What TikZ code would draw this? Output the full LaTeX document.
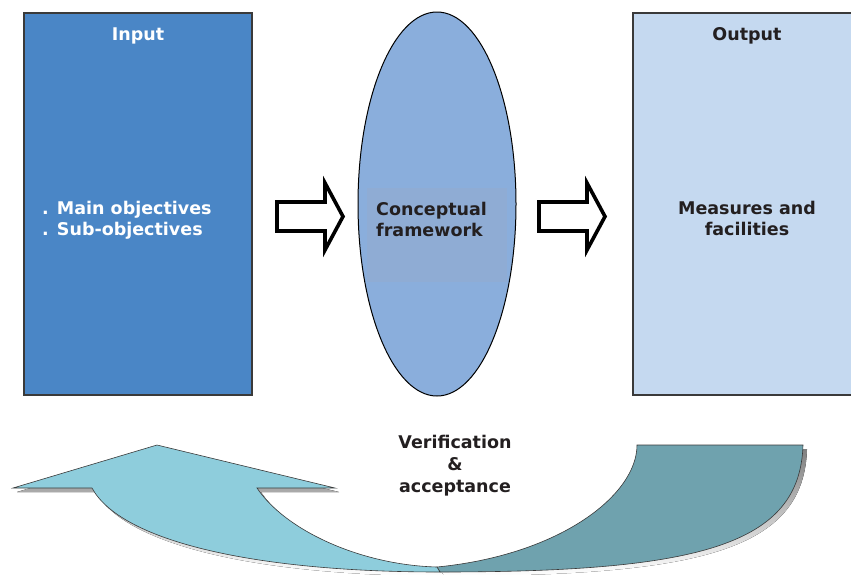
\documentclass[tikz,border=0pt]{standalone}
\usepackage{fontspec}
\setmainfont{DejaVu Sans}
\definecolor{inblue}{HTML}{4A86C6}
\definecolor{ellblue}{HTML}{8AAEDC}
\definecolor{ellrect}{HTML}{8FACD4}
\definecolor{outblue}{HTML}{C5D9F0}
\definecolor{lightarr}{HTML}{8ECDDC}
\definecolor{darkarr}{HTML}{6FA2AE}
\definecolor{txt}{HTML}{231F20}
\definecolor{edge}{HTML}{3A3A3A}
\definecolor{shade}{HTML}{9A9A9A}
\tikzset{
  box/.style={draw=edge, line width=1.2pt},
  lbl/.style={font=\bfseries\fontsize{17.5}{21}\selectfont, inner sep=0pt},
  blockarrow/.style={draw=black, line width=3.6pt, fill=white, line join=miter},
  band/.style={draw=edge, line width=0.6pt}
}
\begin{document}
\begin{tikzpicture}[x=1pt,y=-1pt]
\useasboundingbox (0,0) rectangle (851,574);
% boxes
\path[box, fill=inblue] (24,13) rectangle (252,395);
\path[box, fill=outblue] (633,13) rectangle (856,395);
% ellipse
\path[fill=ellblue] (437,204) ellipse [x radius=79, y radius=192];
\path[fill=ellrect] (367,188) rectangle (507,282);
\path[draw=black, line width=1pt] (437,204) ellipse [x radius=79, y radius=192];
% texts
\node (inT) [lbl, text=white, anchor=base] at (138,40) {Input};
\node (in1) [lbl, text=white, anchor=base west] at (42,214) {. Main objectives};
\node (in2) [lbl, text=white, anchor=base west] at (42,235) {. Sub-objectives};
\node (cf1) [lbl, text=txt, anchor=base west] at (376,215) {Conceptual};
\node (cf2) [lbl, text=txt, anchor=base west] at (376,236) {framework};
\node (outT) [lbl, text=txt, anchor=base] at (747,40) {Output};
\node (o1) [lbl, text=txt, anchor=base] at (747,214) {Measures and};
\node (o2) [lbl, text=txt, anchor=base] at (747,235) {facilities};
% block arrows
\path[blockarrow] (277,202) -- (325,202) -- (325,183) -- (343,216.5) -- (325,250) -- (325,231) -- (277,231) -- cycle;
\path[blockarrow] (539,202) -- (587,202) -- (587,183) -- (605,216.5) -- (587,250) -- (587,231) -- (539,231) -- cycle;
% bottom curved arrow: shadows
\begin{scope}[shift={(4,4)}]
\fill[shade] (637,445) -- (803,445)
  .. controls (800,545) and (700,572) .. (440,572) -- (437,567)
  .. controls (560,555) and (637,495) .. (637,445) -- cycle;
\fill[shade] (13,488) -- (157,445) -- (335,488) -- (257,488)
  .. controls (285,530) and (360,565) .. (437,567) -- (440,572)
  .. controls (250,572) and (120,540) .. (92,488) -- cycle;
\end{scope}
% dark half
\path[band, fill=darkarr] (637,445) -- (803,445)
  .. controls (800,545) and (700,572) .. (440,572) -- (437,567)
  .. controls (560,555) and (637,495) .. (637,445) -- cycle;
% light half with arrow head
\path[band, fill=lightarr] (13,488) -- (157,445) -- (335,488) -- (257,488)
  .. controls (285,530) and (360,565) .. (437,567) -- (440,572)
  .. controls (250,572) and (120,540) .. (92,488) -- cycle;
\node (v1) [lbl, text=txt, anchor=base] at (455,448) {Verification};
\node (v2) [lbl, text=txt, anchor=base] at (455,470) {\&};
\node (v3) [lbl, text=txt, anchor=base] at (455,492) {acceptance};
\end{tikzpicture}
\end{document}
